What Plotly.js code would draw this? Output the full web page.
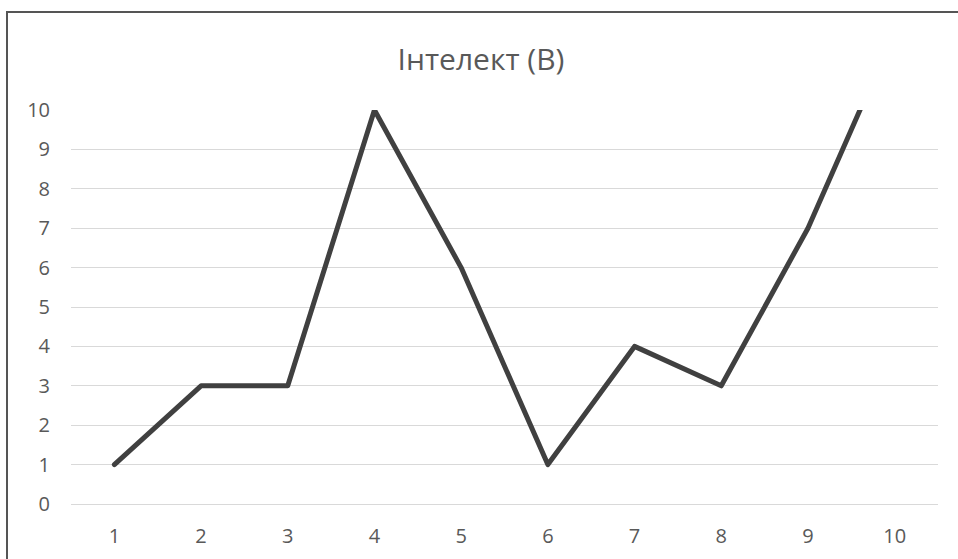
<!DOCTYPE html>
<html>
<head>
<meta charset="utf-8">
<script src="https://cdn.plot.ly/plotly-3.0.1.min.js"></script>
<style>
  html, body { margin: 0; padding: 0; background: #ffffff; }
  #wrap { position: relative; width: 958px; height: 559px; overflow: hidden; }
  #chart { position: absolute; left: 0; top: 0; width: 958px; height: 559px; }
  #frame { position: absolute; left: 6px; top: 11px; width: 2000px; height: 2000px;
           border-left: 2px solid #555555; border-top: 2px solid #555555; pointer-events: none; }
  .js-line { stroke-linejoin: round !important; stroke-linecap: round !important; }
</style>
</head>
<body>
<div id="wrap">
  <div id="chart"></div>
  <div id="frame"></div>
</div>
<script>
const categories = ['1', '2', '3', '4', '5', '6', '7', '8', '9', '10'];
const values = [1, 3, 3, 10, 6, 1, 4, 3, 7, 12];
const yTicks = [0, 1, 2, 3, 4, 5, 6, 7, 8, 9, 10];
const chartTitle = 'Інтелект (B)';

const fontFamily = 'Open Sans, Noto Sans, DejaVu Sans, sans-serif';

const data = [{
  type: 'scatter',
  mode: 'lines',
  x: categories,
  y: values,
  line: { color: '#404040', width: 5 },
  hoverinfo: 'skip'
}];

const layout = {
  width: 958,
  height: 559,
  margin: { l: 71, r: 20, t: 110, b: 55 },
  paper_bgcolor: '#ffffff',
  plot_bgcolor: '#ffffff',
  showlegend: false,
  font: { family: fontFamily, color: '#595959', size: 20 },
  title: {
    text: chartTitle,
    font: { family: fontFamily, size: 30, color: '#595959' },
    x: 481 / 958, xref: 'container', xanchor: 'center',
    y: 1 - 59 / 559, yref: 'container', yanchor: 'middle'
  },
  xaxis: {
    type: 'category',
    range: [-0.5, categories.length - 0.5],
    tickvals: categories,
    ticktext: categories,
    showgrid: false,
    showline: false,
    zeroline: false,
    ticks: '',
    ticklabelstandoff: 18,
    tickfont: { family: fontFamily, size: 20, color: '#595959' },
    fixedrange: true
  },
  yaxis: {
    range: [0, 10],
    tickvals: yTicks,
    ticktext: yTicks.map(String),
    showgrid: true,
    gridcolor: '#d9d9d9',
    gridwidth: 1,
    zeroline: true,
    zerolinecolor: '#d9d9d9',
    zerolinewidth: 1,
    showline: false,
    ticks: '',
    ticklabelstandoff: 20,
    tickfont: { family: fontFamily, size: 20, color: '#595959' },
    fixedrange: true
  }
};

Plotly.newPlot('chart', data, layout, { displayModeBar: false, staticPlot: true });
</script>
</body>
</html>
